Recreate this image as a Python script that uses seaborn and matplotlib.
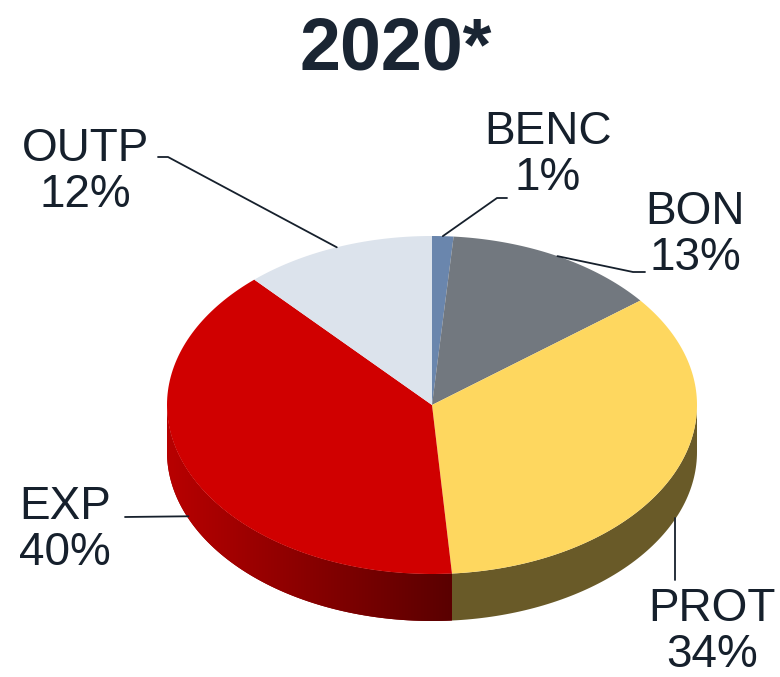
import numpy as np
import seaborn as sns
import matplotlib.pyplot as plt
from matplotlib.patches import Polygon

# data (clockwise from 12 o'clock); shown labels are rounded
labels = ["BENC", "BON", "PROT", "EXP", "OUTP"]
shares = [1.3, 13.1, 34.4, 39.5, 11.7]
shown_pct = [1, 13, 34, 40, 12]
top_colors = ["#6a86ad", "#72787f", "#fed75f", "#d00000", "#dce3ec"]
side_colors = ["#4a5e79", "#50545a", "#695a28", "#8a0000", "#9aa0a6"]

# label text centres and leader-line elbows (pixel layout)
text_pos = [(548, 155), (695, 235), (712, 632), (65, 530), (85, 172)]
elbows = [[(497, 198), (507, 198)], [(633, 272), (645, 272)], [(675, 580)],
          [(125, 517)], [(168, 157), (158, 157)]]

sns.set_theme(style="white")
plt.rcParams['font.family'] = ['Liberation Sans', 'DejaVu Sans']

W, H = 780, 677
fig = plt.figure(figsize=(W / 100, H / 100), dpi=100)
ax = fig.add_axes([0, 0, 1, 1])
ax.set_xlim(0, W)
ax.set_ylim(H, 0)
ax.axis('off')

cx, cy, rx, ry, depth = 432, 405, 265, 169, 47


def edge(t, dz=0.0):
    # t: degrees clockwise from top
    r = np.radians(t)
    return cx + rx * np.sin(r), cy - ry * np.cos(r) + dz


bounds = np.concatenate([[0], np.cumsum(shares)]) / sum(shares) * 360

# side faces (front half only: 90..270 deg)
for i in range(len(shares)):
    a1, a2 = max(bounds[i], 90), min(bounds[i + 1], 270)
    if a2 <= a1:
        continue
    ts = np.linspace(a1, a2, 80)
    upper = [edge(t) for t in ts]
    lower = [edge(t, depth) for t in ts[::-1]]
    poly = Polygon(upper + lower, closed=True, facecolor=side_colors[i],
                   edgecolor='none', zorder=1)
    ax.add_patch(poly)
    if labels[i] == "EXP":
        # horizontal shading on the red side
        xs1 = edge(a1)[0]
        grad = np.linspace(0, 1, 256)[None, :]
        cmap = sns.blend_palette(["#b80000", "#880000", "#5a0000"], as_cmap=True)
        im = ax.imshow(grad, cmap=cmap, extent=[cx - rx, xs1, cy + ry + depth + 2, cy - 5],
                       aspect='auto', zorder=1.5)
        im.set_clip_path(poly)

# top faces
for i in range(len(shares)):
    ts = np.linspace(bounds[i], bounds[i + 1], 120)
    pts = [(cx, cy)] + [edge(t) for t in ts]
    ax.add_patch(Polygon(pts, closed=True, facecolor=top_colors[i],
                         edgecolor='none', zorder=2))

# labels and leader lines
for i, lab in enumerate(labels):
    mid = (bounds[i] + bounds[i + 1]) / 2
    dz = depth * 0.95 if 90 < mid < 270 else 0
    ax_, ay_ = edge(mid, dz)
    if lab == "PROT":
        ax_ = elbows[i][0][0]
    xs = [ax_] + [p[0] for p in elbows[i]]
    ys = [ay_] + [p[1] for p in elbows[i]]
    ax.plot(xs, ys, color="#16202c", lw=1.3, zorder=3)
    ax.text(*text_pos[i], f"{lab}\n{shown_pct[i]}%", ha='center', va='center',
            fontsize=33, color="#16202c", linespacing=1.05, zorder=4)

ax.text(W / 2 + 6, 50, "2020*", ha='center', va='center', fontsize=53,
        fontweight='bold', color="#1a2533")

fig.savefig("out.png", dpi=100)
